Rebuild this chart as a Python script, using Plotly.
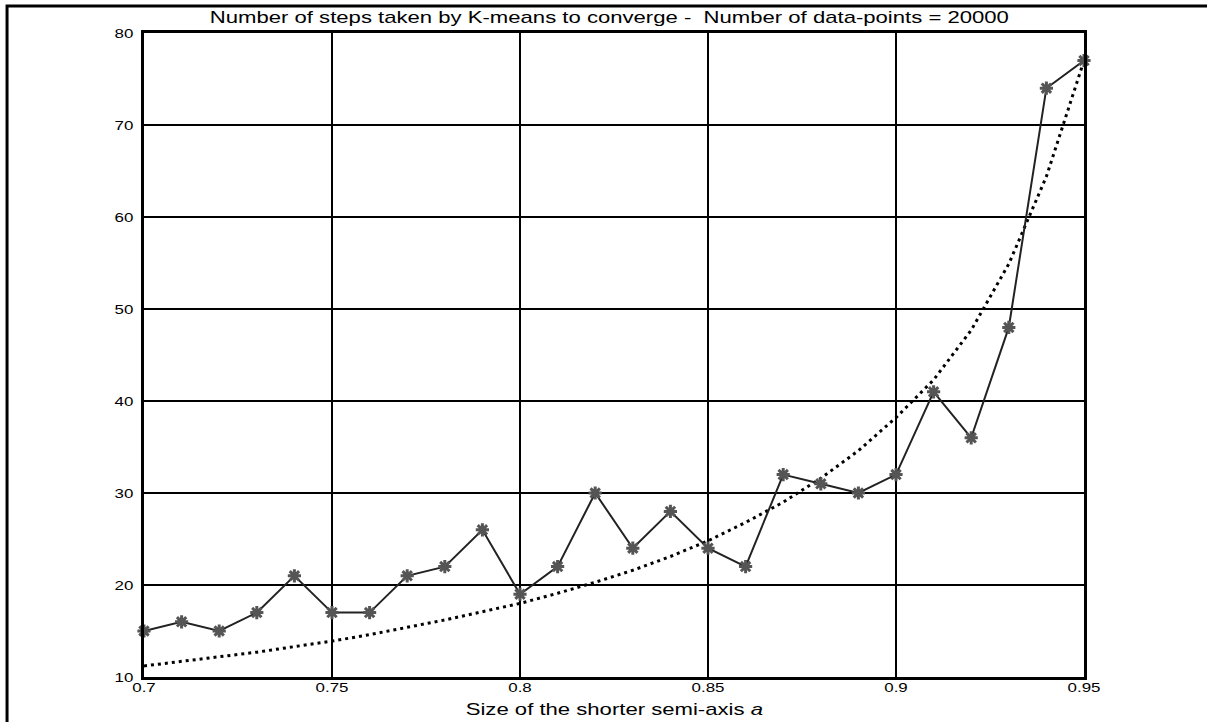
import plotly.graph_objects as go

# Semi-axis sizes and the K-means step counts measured at each one
semi_axis = [0.70, 0.71, 0.72, 0.73, 0.74, 0.75, 0.76, 0.77, 0.78, 0.79,
             0.80, 0.81, 0.82, 0.83, 0.84, 0.85, 0.86, 0.87, 0.88, 0.89,
             0.90, 0.91, 0.92, 0.93, 0.94, 0.95]
steps = [15, 16, 15, 17, 21, 17, 17, 21, 22, 26,
         19, 22, 30, 24, 28, 24, 22, 32, 31, 30,
         32, 41, 36, 48, 74, 77]
# Smooth trend curve drawn dotted
trend = [11.2, 11.7, 12.2, 12.7, 13.3, 13.9, 14.6, 15.4, 16.2, 17.1,
         18.0, 19.1, 20.3, 21.6, 23.1, 24.8, 26.8, 29.0, 31.6, 34.6,
         38.2, 42.3, 47.7, 54.9, 64.4, 77.0]

x_ticks = [0.7, 0.75, 0.8, 0.85, 0.9, 0.95]
x_tick_text = ["0.7", "0.75", "0.8", "0.85", "0.9", "0.95"]
y_ticks = [10, 20, 30, 40, 50, 60, 70, 80]

title_text = "Number of steps taken by K-means to converge -  Number of data-points = 20000"
x_label = "Size of the shorter semi-axis <i>a</i>"

FONT = "Liberation Sans, Arial, sans-serif"
TEXT_STRETCH = 1.3  # wide, Helvetica-style lettering

fig = go.Figure()

fig.add_trace(go.Scatter(
    x=semi_axis, y=trend, mode="lines",
    line=dict(color="black", width=3, dash="3px,4px"),
    hoverinfo="skip", showlegend=False,
))

fig.add_trace(go.Scatter(
    x=semi_axis, y=steps, mode="lines+markers",
    line=dict(color="#222222", width=2),
    marker=dict(symbol="asterisk", size=11,
                color="#555555", line=dict(color="#555555", width=3)),
    showlegend=False, cliponaxis=False,
))

axis_common = dict(
    showline=True, linecolor="black", linewidth=3, mirror=True,
    showgrid=True, gridcolor="black", gridwidth=2,
    zeroline=False, ticks="",
    tickfont=dict(family=FONT, size=13, color="black"),
)

fig.update_xaxes(range=[0.7, 0.95], tickvals=x_ticks, ticktext=x_tick_text,
                 ticklabelstandoff=-4, **axis_common)
fig.update_yaxes(range=[10, 80], tickvals=y_ticks, ticklabelstandoff=5,
                 **axis_common)

# Outer frame around the figure
fig.add_shape(type="rect", xref="paper", yref="paper",
              x0=-0.1457, x1=1.6, y0=-0.5, y1=1.0419,
              line=dict(color="black", width=3), fillcolor="rgba(0,0,0,0)",
              layer="above")

fig.add_annotation(text=title_text, xref="paper", yref="paper",
                   x=0.495, y=1.0248, xanchor="center", yanchor="middle",
                   showarrow=False,
                   font=dict(family=FONT, size=17, color="black"))
fig.add_annotation(text=x_label, xref="paper", yref="paper",
                   x=0.5, y=-0.051, xanchor="center", yanchor="middle",
                   showarrow=False,
                   font=dict(family=FONT, size=17, color="black"))

fig.update_layout(
    width=1207, height=722,
    margin=dict(l=144, r=123, t=33, b=45),
    paper_bgcolor="white", plot_bgcolor="white",
    font=dict(family=FONT, color="black"),
)

# Widen every label horizontally around its own anchor
stretch_js = """
var gd = document.getElementById('{plot_id}');
gd.querySelectorAll('g.xtick text, g.ytick text, g.annotation-text-g text').forEach(function (t) {
    var w = t.getComputedTextLength();
    t.setAttribute('textLength', (w * %s).toFixed(2));
    t.setAttribute('lengthAdjust', 'spacingAndGlyphs');
});
""" % TEXT_STRETCH

fig.write_html("out.html", post_script=stretch_js)
